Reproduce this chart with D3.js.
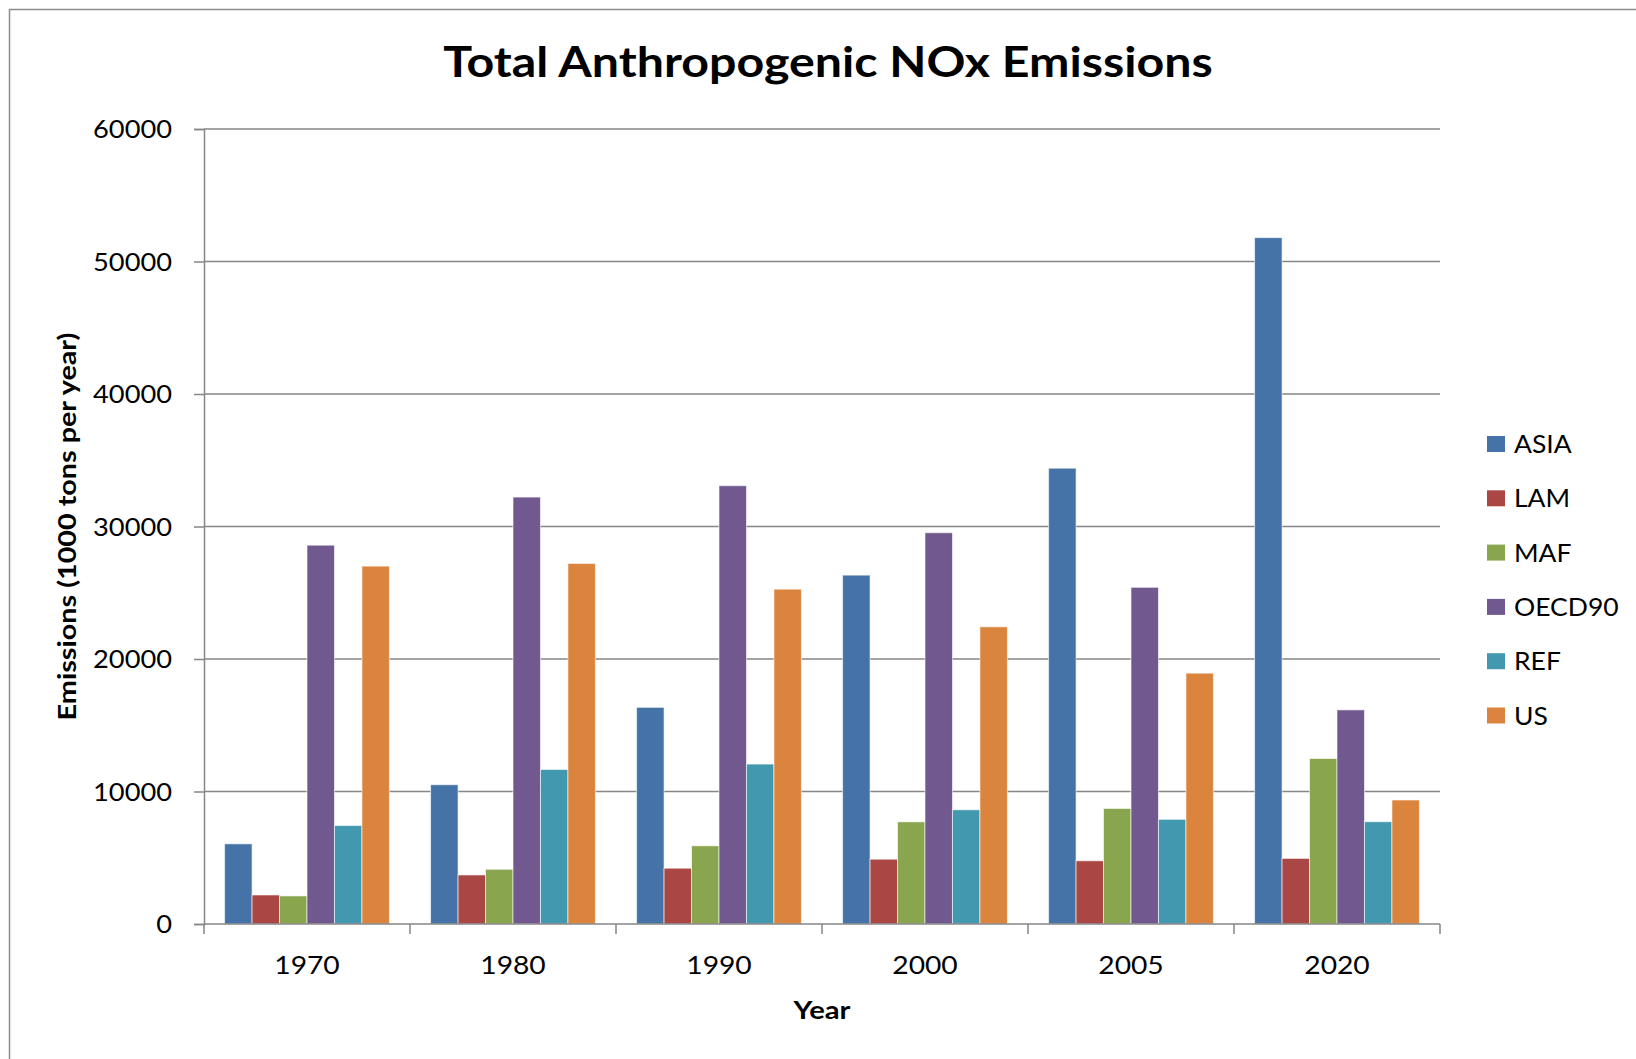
<!DOCTYPE html>
<html>
<head>
<meta charset="utf-8">
<script src="https://cdn.jsdelivr.net/npm/d3@7"></script>
<style>
  body { margin: 0; background: #fff; }
  svg { display: block; font-family: Lato, "Open Sans", sans-serif; }
</style>
</head>
<body>
<div class="chart"></div>
<script>
const years = ['1970', '1980', '1990', '2000', '2005', '2020'];
const regions = ['ASIA', 'LAM', 'MAF', 'OECD90', 'REF', 'US'];
const colors = ['#4572A7', '#AA4643', '#89A54E', '#71588F', '#4198AF', '#DB843D'];

// emissions per region, one value per year
const asia = [6050, 10510, 16350, 26330, 34400, 51800];
const lam = [2190, 3700, 4210, 4890, 4770, 4950];
const maf = [2120, 4130, 5900, 7710, 8720, 12490];
const oecd90 = [28590, 32220, 33080, 29530, 25410, 16160];
const ref = [7430, 11660, 12070, 8620, 7900, 7720];
const us = [27010, 27210, 25270, 22430, 18930, 9360];

const yTicks = [0, 10000, 20000, 30000, 40000, 50000, 60000];

// place a text at (x, y), widened a bit to mimic the wide original lettering
function placeText(sel, x, y, sx, rot) {
  sel.attr('x', 0).attr('y', 0)
    .attr('transform', `translate(${x}, ${y})${rot ? ` rotate(${rot})` : ''} scale(${sx}, 1)`);
  return sel;
}

function drawChart() {
  const w = 1636;
  const h = 1059;
  const margin = { top: 129, right: 196, bottom: 135, left: 204 };
  const series = [asia, lam, maf, oecd90, ref, us];

  const rows = years.map((yr, i) => ({
    year: yr,
    values: regions.map((r, j) => ({ region: r, value: series[j][i] }))
  }));

  const svg = d3.select('.chart')
    .append('svg')
    .attr('width', w)
    .attr('height', h);

  // outer chart frame
  svg.append('rect')
    .attr('x', 9.5)
    .attr('y', 9.5)
    .attr('width', w + 20)
    .attr('height', h + 20)
    .attr('fill', 'none')
    .attr('stroke', '#8c8c8c')
    .attr('stroke-width', 1.5);

  const x = d3.scaleBand()
    .domain(years)
    .range([margin.left, w - margin.right])
    .paddingInner(0.2)
    .paddingOuter(0.1);

  const xSub = d3.scaleBand()
    .domain(regions)
    .range([0, x.bandwidth()]);

  const y = d3.scaleLinear()
    .domain([0, 60000])
    .range([h - margin.bottom, margin.top]);

  const color = d3.scaleOrdinal().domain(regions).range(colors);

  // gridlines
  svg.append('g')
    .attr('class', 'grid')
    .selectAll('line')
    .data(yTicks.slice(1))
    .enter()
    .append('line')
    .attr('x1', margin.left)
    .attr('x2', w - margin.right)
    .attr('y1', d => y(d))
    .attr('y2', d => y(d))
    .attr('stroke', '#868686')
    .attr('stroke-width', 1.5);

  // bars
  const group = svg.append('g')
    .selectAll('g')
    .data(rows)
    .enter()
    .append('g')
    .attr('transform', d => `translate(${x(d.year)}, 0)`);

  group.selectAll('rect')
    .data(d => d.values)
    .enter()
    .append('rect')
    .attr('x', d => xSub(d.region))
    .attr('y', d => y(d.value))
    .attr('width', xSub.bandwidth())
    .attr('height', d => y(0) - y(d.value))
    .attr('fill', d => color(d.region))
    .attr('stroke', 'rgba(255,255,255,0.6)')
    .attr('stroke-width', 1);

  // y axis
  const yAxis = svg.append('g')
    .attr('transform', `translate(${margin.left}, 0)`)
    .call(d3.axisLeft(y).tickValues(yTicks).tickFormat(d3.format('d')).tickSize(10).tickPadding(22));
  yAxis.selectAll('path, line').attr('stroke', '#868686').attr('stroke-width', 1.5);
  yAxis.selectAll('text')
    .attr('font-size', 25)
    .attr('fill', '#000')
    .attr('font-family', 'Lato, sans-serif')
    .attr('dy', '0.34em')
    .each(function() { placeText(d3.select(this), -32, 0, 1.09); });

  // x axis, ticks between categories
  const bounds = d3.range(years.length + 1).map(i => margin.left + i * x.step());
  const xAxis = svg.append('g').attr('transform', `translate(0, ${y(0)})`);
  xAxis.append('line')
    .attr('x1', margin.left)
    .attr('x2', w - margin.right)
    .attr('stroke', '#868686')
    .attr('stroke-width', 1.5);
  xAxis.selectAll('.tick')
    .data(bounds)
    .enter()
    .append('line')
    .attr('x1', d => d)
    .attr('x2', d => d)
    .attr('y1', 0)
    .attr('y2', 10)
    .attr('stroke', '#868686')
    .attr('stroke-width', 1.5);
  xAxis.selectAll('text')
    .data(years)
    .enter()
    .append('text')
    .attr('text-anchor', 'middle')
    .attr('font-size', 25)
    .text(d => d)
    .each(function(d) { placeText(d3.select(this), x(d) + x.bandwidth() / 2, 50, 1.13); });

  // title
  placeText(svg.append('text'), 828, 77, 1.15)
    .attr('text-anchor', 'middle')
    .attr('font-size', 42)
    .attr('font-weight', 'bold')
    .text('Total Anthropogenic NOx Emissions');

  // axis titles
  placeText(svg.append('text'), 822, 1019, 1.17)
    .attr('text-anchor', 'middle')
    .attr('font-size', 25)
    .attr('font-weight', 'bold')
    .text('Year');

  placeText(svg.append('text'), 76, (y(0) + y(60000)) / 2, 1.15, -90)
    .attr('text-anchor', 'middle')
    .attr('font-size', 25)
    .attr('font-weight', 'bold')
    .text('Emissions (1000 tons per year)');

  // legend
  const legend = svg.append('g')
    .selectAll('g')
    .data(regions)
    .enter()
    .append('g')
    .attr('transform', (d, i) => `translate(1487, ${444 + i * 54.3})`);

  legend.append('rect')
    .attr('x', 0)
    .attr('y', -8)
    .attr('width', 18)
    .attr('height', 16)
    .attr('fill', d => color(d));

  legend.append('text')
    .attr('font-size', 25)
    .text(d => d)
    .each(function() { placeText(d3.select(this), 27, 9, 1.06); });
}

drawChart();
</script>
</body>
</html>
